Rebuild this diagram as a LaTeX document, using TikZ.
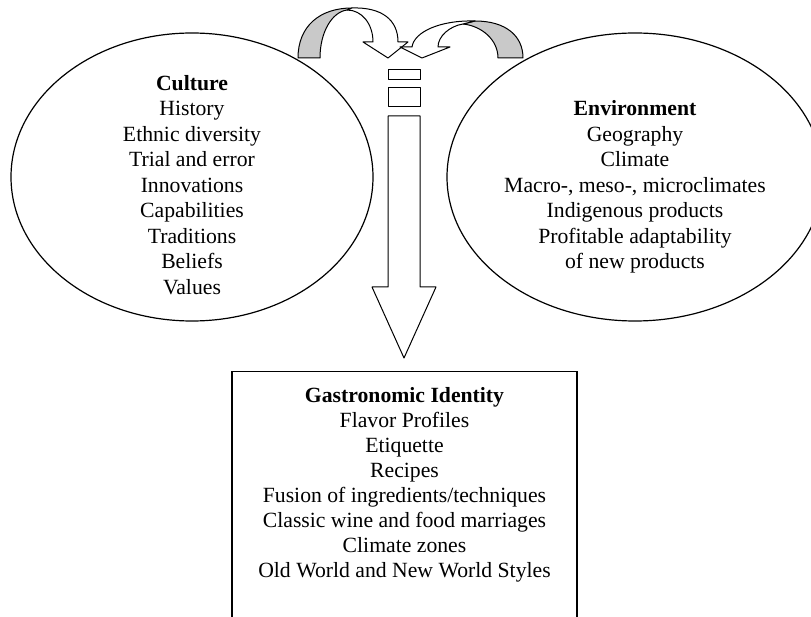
\documentclass[tikz,border=0pt]{standalone}
\usepackage{fontspec}
\setmainfont{Liberation Serif}
\usetikzlibrary{shapes.geometric}

\tikzset{
  blob/.style={ellipse, draw, line width=1.2pt, minimum width=362pt, minimum height=288pt},
  words/.style={align=center, inner sep=0pt, font=\fontsize{21.7}{25.5}\selectfont},
  band/.style={draw, line width=1pt, line join=round},
  back/.style={band, fill=gray!42},
  front/.style={band, fill=white},
}

\begin{document}
\begin{tikzpicture}[x=1pt, y=-1pt]
\useasboundingbox (0,0) rectangle (811,617);

% the two fields
\node[blob] (culturering) at (192,177) {};
\node[blob, minimum width=376pt] (envring) at (635,177) {};

\node[words, anchor=north] (culture) at (192,75) {\textbf{Culture}\\History\\Ethnic diversity\\Trial and error\\Innovations\\Capabilities\\Traditions\\Beliefs\\Values};
\node[words, anchor=north] (environment) at (635,100.5) {\textbf{Environment}\\Geography\\Climate\\Macro-, meso-, microclimates\\Indigenous products\\Profitable adaptability\\of new products};

% result box
\node[draw, line width=1.4pt, minimum width=345pt, minimum height=300pt, anchor=north] (identity) at (404.5,371) {};
\node[words, anchor=north, font=\fontsize{21.7}{25}\selectfont] (gastro) at (404.5,387) {\textbf{Gastronomic Identity}\\Flavor Profiles\\Etiquette\\Recipes\\Fusion of ingredients/techniques\\Classic wine and food marriages\\Climate zones\\Old World and New World Styles};

% curved arrows on top
\path[back] (298,58) .. controls (298,26) and (320,8) .. (352,8) -- (347,10) .. controls (332,12) and (320,32) .. (320,58) -- cycle;
\path[front] (347,10) .. controls (362,10) and (373,24) .. (373,42) -- (363,42) -- (388,58) -- (408,42) -- (398,42) .. controls (398,20) and (382,7) .. (352,8) -- cycle;

\path[back] (523,58) .. controls (523,36) and (506,21) .. (475,21) -- (463,24) .. controls (482,26) and (498,40) .. (498,58) -- cycle;
\path[front] (463,24) .. controls (450,26) and (438,36) .. (438,47) -- (450,47) -- (422,58) -- (400,47) -- (412,47) .. controls (414,32) and (440,20) .. (475,21) -- cycle;

% dashed shaft and big arrow down
\draw[band] (388,70) rectangle (420,80);
\draw[band] (388,88) rectangle (420,107);
\draw[band] (388,116) -- (420,116) -- (420,287) -- (436,287) -- (404,358) -- (372,287) -- (388,287) -- cycle;
\end{tikzpicture}
\end{document}
